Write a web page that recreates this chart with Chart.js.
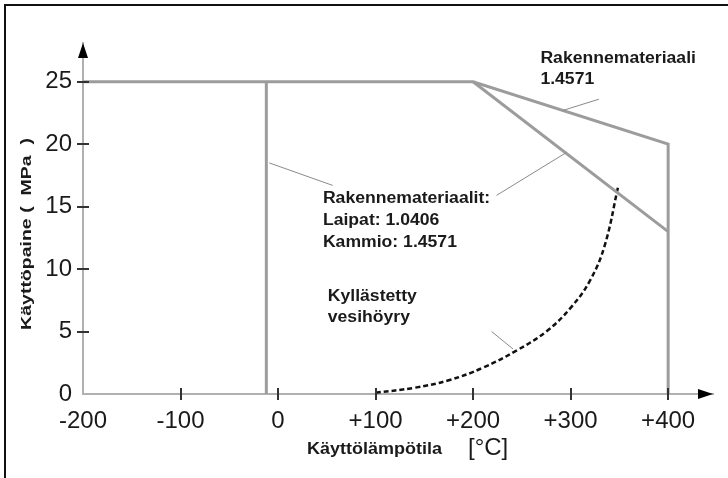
<!DOCTYPE html>
<html>
<head>
<meta charset="utf-8">
<script src="https://cdn.jsdelivr.net/npm/chart.js@4.4.1/dist/chart.umd.min.js"></script>
<style>
  html, body { margin: 0; padding: 0; background: #ffffff; }
  canvas { display: block; }
</style>
</head>
<body>
<canvas id="c" width="728" height="478"></canvas>
<script>
// ---- data ----
const xTicks = [-200, -100, 0, 100, 200, 300, 400];
const yTicks = [0, 5, 10, 15, 20, 25];

// upper boundary (material 1.4571)
const upperT = [-200, 200, 400, 400];
const upperP = [25, 25, 20, 0];
// lower boundary (flanges 1.0406 / chamber 1.4571)
const lowerT = [200, 400];
const lowerP = [25, 13];
// left (minimum temperature) boundary
const leftT = [-12, -12];
const leftP = [0, 25];
// saturated steam curve
const steamT = [100, 140, 175, 210, 245, 275, 300, 320, 335, 349];
const steamP = [0.1, 0.5, 1.1, 2.1, 3.5, 5.0, 6.9, 9.1, 11.9, 16.7];

const xLabel = 'Käyttölämpötila';
const xUnit = '[°C]';
const yLabel = 'Käyttöpaine (  MPa  )';

const notes = [
  { t: 269, p: 26.5, text: 'Rakennemateriaali' },
  { t: 269, p: 24.8, text: '1.4571' },
  { t: 46, p: 15.3, text: 'Rakennemateriaalit:' },
  { t: 46, p: 13.5, text: 'Laipat: 1.0406' },
  { t: 46, p: 11.8, text: 'Kammio: 1.4571' },
  { t: 51, p: 7.45, text: 'Kyllästetty' },
  { t: 51, p: 5.8, text: 'vesihöyry' }
];
const leaders = [
  [-9, 18.5, 56, 16.7],
  [224, 15.9, 295, 19.3],
  [292, 22.7, 329, 23.6],
  [219, 5.0, 241, 3.6]
];

const pts = (xs, ys) => xs.map((x, i) => ({ x: x, y: ys[i] }));
const FONT = '"Liberation Sans", Arial, Helvetica, sans-serif';
const GRAY = '#9c9c9c';

function stretched(ctx, text, x, y, sx) {
  ctx.save();
  ctx.translate(x, y);
  ctx.scale(sx, 1);
  ctx.fillText(text, 0, 0);
  ctx.restore();
}

const decor = {
  id: 'decor',
  beforeDraw(chart) {
    const ctx = chart.ctx;
    ctx.save();
    ctx.fillStyle = '#ffffff';
    ctx.fillRect(0, 0, chart.width, chart.height);
    ctx.strokeStyle = '#111';
    ctx.lineWidth = 2;
    ctx.beginPath();
    ctx.moveTo(5, chart.height);
    ctx.lineTo(5, 5);
    ctx.lineTo(chart.width, 5);
    ctx.stroke();
    ctx.restore();
  },
  afterDraw(chart) {
    const ctx = chart.ctx;
    const xs = chart.scales.x, ys = chart.scales.y;
    const a = chart.chartArea;
    ctx.save();
    ctx.strokeStyle = '#333';
    ctx.lineWidth = 2;
    xTicks.forEach(v => {
      if (v === xs.min) return;
      const px = Math.round(xs.getPixelForValue(v));
      ctx.beginPath();
      ctx.moveTo(px, a.bottom - 6);
      ctx.lineTo(px, a.bottom + 6);
      ctx.stroke();
    });
    yTicks.forEach(v => {
      if (v === ys.min) return;
      const py = Math.round(ys.getPixelForValue(v));
      ctx.beginPath();
      ctx.moveTo(a.left - 6, py);
      ctx.lineTo(a.left + 6, py);
      ctx.stroke();
    });
    ctx.fillStyle = '#000';
    ctx.beginPath();
    ctx.moveTo(a.left, a.top);
    ctx.lineTo(a.left - 5, a.top + 15);
    ctx.lineTo(a.left + 5, a.top + 15);
    ctx.closePath();
    ctx.fill();
    ctx.beginPath();
    ctx.moveTo(a.right, a.bottom);
    ctx.lineTo(a.right - 15, a.bottom - 5);
    ctx.lineTo(a.right - 15, a.bottom + 5);
    ctx.closePath();
    ctx.fill();
    ctx.strokeStyle = '#8a8a8a';
    ctx.lineWidth = 1;
    leaders.forEach(l => {
      ctx.beginPath();
      ctx.moveTo(xs.getPixelForValue(l[0]), ys.getPixelForValue(l[1]));
      ctx.lineTo(xs.getPixelForValue(l[2]), ys.getPixelForValue(l[3]));
      ctx.stroke();
    });
    ctx.fillStyle = '#1a1a1a';
    ctx.font = 'bold 16px ' + FONT;
    ctx.textAlign = 'left';
    ctx.textBaseline = 'alphabetic';
    notes.forEach(n => {
      stretched(ctx, n.text, xs.getPixelForValue(n.t), ys.getPixelForValue(n.p), 1.1);
    });
    ctx.font = 'bold 16px ' + FONT;
    stretched(ctx, xLabel, 307, 454, 1.125);
    ctx.font = '24px ' + FONT;
    ctx.fillText(xUnit, 468, 455);
    ctx.save();
    ctx.translate(27, 234);
    ctx.rotate(-Math.PI / 2);
    ctx.scale(1.3, 1);
    ctx.font = 'bold 15px ' + FONT;
    ctx.textAlign = 'center';
    ctx.textBaseline = 'middle';
    ctx.fillText(yLabel, 0, 0);
    ctx.restore();
    ctx.restore();
  }
};

new Chart(document.getElementById('c'), {
  type: 'scatter',
  data: {
    datasets: [
      { data: pts(upperT, upperP), showLine: true, borderColor: GRAY, borderWidth: 3, pointRadius: 0, tension: 0, borderJoinStyle: 'miter' },
      { data: pts(lowerT, lowerP), showLine: true, borderColor: GRAY, borderWidth: 3, pointRadius: 0, tension: 0 },
      { data: pts(leftT, leftP), showLine: true, borderColor: GRAY, borderWidth: 3, pointRadius: 0, tension: 0 },
      { data: pts(steamT, steamP), showLine: true, borderColor: '#111', borderWidth: 2.5, borderDash: [5, 3], pointRadius: 0, tension: 0.4 }
    ]
  },
  options: {
    responsive: false,
    animation: false,
    layout: { padding: { top: 43, right: 15, left: 0, bottom: 0 } },
    plugins: { legend: { display: false }, tooltip: { enabled: false } },
    scales: {
      x: {
        type: 'linear',
        min: -200,
        max: 446,
        afterBuildTicks: s => { s.ticks = xTicks.map(v => ({ value: v })); },
        afterFit: s => { s.height = 84; },
        grid: { display: false, drawTicks: false },
        border: { display: true, color: '#b0b0b0', width: 2 },
        ticks: {
          padding: 13,
          maxRotation: 0,
          autoSkip: false,
          color: '#1a1a1a',
          font: { family: FONT, size: 24 },
          callback: v => (v > 0 ? '+' + v : String(v))
        }
      },
      y: {
        type: 'linear',
        min: 0,
        max: 28.1,
        afterBuildTicks: s => { s.ticks = yTicks.map(v => ({ value: v })); },
        afterFit: s => { s.width = 83; },
        grid: { display: false, drawTicks: false },
        border: { display: true, color: '#b0b0b0', width: 2 },
        ticks: {
          padding: 11,
          autoSkip: false,
          color: '#1a1a1a',
          font: { family: FONT, size: 24 },
          callback: v => String(v)
        }
      }
    }
  },
  plugins: [decor]
});
</script>
</body>
</html>
